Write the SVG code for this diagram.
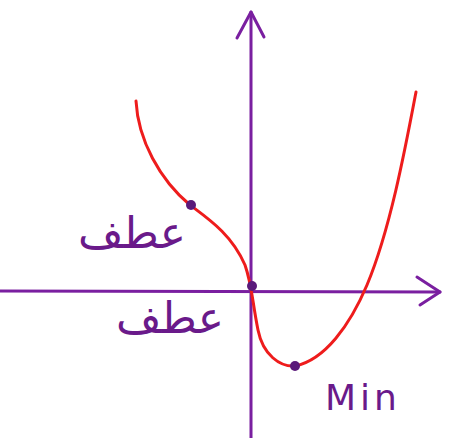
<svg xmlns="http://www.w3.org/2000/svg" width="471" height="438" viewBox="0 0 471 438">
<style>
.ax{stroke:#7a1fa0;stroke-width:3;fill:none;stroke-linecap:round;stroke-linejoin:round}
.cv{stroke:#ee1c1c;stroke-width:3;fill:none;stroke-linecap:round}
.pt{fill:#5a1a7a}
.lb{fill:#6a1a8a;font-family:"DejaVu Sans",sans-serif}
</style>
<rect width="471" height="438" fill="#fff"/>
<g id="connectors">
<path class="ax" d="M251,438 L251,12"/>
<path class="ax" d="M237,38 L251,12 L264,37"/>
<path class="ax" d="M0,291 L440,292"/>
<path class="ax" d="M417,277 L440,292 L420,305"/>
</g>
<g id="curve">
<path class="cv" d="M136,101 C138,140 160,180 190,205 C210,220 232,235 245,265 C252,285 252,300 258,330 C263,355 280,367 295,366 C325,360 350,325 367,285 C390,230 405,150 416,92"/>
</g>
<g id="p1"><circle class="pt" cx="191" cy="205" r="5"/></g>
<g id="p2"><circle class="pt" cx="252" cy="286" r="5"/></g>
<g id="p3"><circle class="pt" cx="295" cy="366" r="5"/></g>
<g id="l1"><text class="lb" x="186" y="248" font-size="44" text-anchor="start" direction="rtl">عطف</text></g>
<g id="l2"><text class="lb" x="224" y="333" font-size="44" text-anchor="start" direction="rtl">عطف</text></g>
<g id="l3"><text class="lb" x="325" y="410" font-size="36" letter-spacing="4" font-family="Liberation Sans">Min</text></g>
</svg>
